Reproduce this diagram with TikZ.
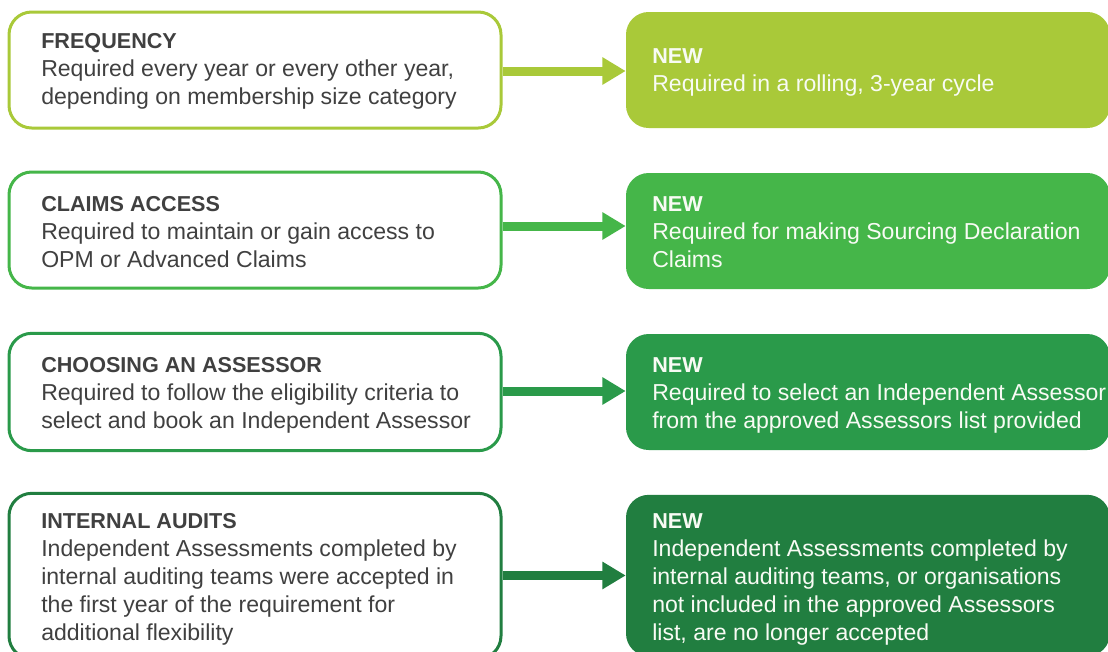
\documentclass[tikz,border=0pt]{standalone}
\usepackage{fontspec}
\setmainfont{Liberation Sans}
\usetikzlibrary{arrows.meta}
\definecolor{cA}{HTML}{A9C939}
\definecolor{cB}{HTML}{45B649}
\definecolor{cC}{HTML}{2A9A4A}
\definecolor{cD}{HTML}{217E40}
\definecolor{txtgray}{HTML}{404040}
\definecolor{txtwhite}{HTML}{F8FBF4}
\newcommand{\hd}[1]{{\fontsize{16.2}{21}\selectfont\bfseries #1}}
\tikzset{
  lbox/.style={draw, line width=2.25pt, rounded corners=17pt, fill=white, minimum width=369pt, inner sep=0pt},
  rbox/.style={rounded corners=17pt, minimum width=363pt, inner sep=0pt},
  arr/.style={line width=6.75pt, -{Triangle[length=17.5pt, width=19.5pt]}},
  ltxt/.style={anchor=base west, inner sep=0pt, text=txtgray, font=\fontsize{17.3}{21}\selectfont},
  rtxt/.style={anchor=base west, inner sep=0pt, text=txtwhite, font=\fontsize{17.3}{21}\selectfont}
}
\begin{document}
\begin{tikzpicture}[x=0.75pt, y=-0.75pt]
\useasboundingbox (0,0) rectangle (1108,651);
\clip (0,0) rectangle (1108,651);
% left boxes
\node[lbox, draw=cA, minimum height=87pt] (l1) at (255,70) {};
\node[lbox, draw=cB, minimum height=87pt] (l2) at (255,230) {};
\node[lbox, draw=cC, minimum height=88pt] (l3) at (255,392) {};
\node[lbox, draw=cD, minimum height=124pt] (l4) at (255,576) {};
% right boxes
\node[rbox, fill=cA, minimum height=87pt] (r1) at (868,70) {};
\node[rbox, fill=cB, minimum height=87pt] (r2) at (868,231) {};
\node[rbox, fill=cC, minimum height=87pt] (r3) at (868,392) {};
\node[rbox, fill=cD, minimum height=121pt] (r4) at (868,575.5) {};
% arrows
\draw[arr, cA] ([yshift=-0.75pt]l1.east) -- ([yshift=-0.75pt]l1.east -| r1.west);
\draw[arr, cB] ([yshift=3pt]l2.east) -- ([yshift=3pt]l2.east -| r2.west);
\draw[arr, cC] ([yshift=0.75pt]l3.east) -- ([yshift=0.75pt]l3.east -| r3.west);
\draw[arr, cD] ([yshift=0.4pt]l4.east) -- ([yshift=0.4pt]l4.east -| r4.west);
% left texts
\node[ltxt] (t1) at (41,48) {\parbox[t]{420pt}{\hd{FREQUENCY}\\Required every year or every other year,\\depending on membership size category}};
\node[ltxt] (t2) at (41,211) {\parbox[t]{420pt}{\hd{CLAIMS ACCESS}\\Required to maintain or gain access to\\OPM or Advanced Claims}};
\node[ltxt] (t3) at (41,372) {\parbox[t]{420pt}{\hd{CHOOSING AN ASSESSOR}\\Required to follow the eligibility criteria to\\select and book an Independent Assessor}};
\node[ltxt] (t4) at (41,528) {\parbox[t]{420pt}{\hd{INTERNAL AUDITS}\\Independent Assessments completed by\\internal auditing teams were accepted in\\the first year of the requirement for\\additional flexibility}};
% right texts
\node[rtxt] (s1) at (652,63) {\parbox[t]{420pt}{\hd{NEW}\\Required in a rolling, 3-year cycle}};
\node[rtxt] (s2) at (652,211) {\parbox[t]{420pt}{\hd{NEW}\\Required for making Sourcing Declaration\\Claims}};
\node[rtxt] (s3) at (652,372) {\parbox[t]{420pt}{\hd{NEW}\\Required to select an Independent Assessor\\from the approved Assessors list provided}};
\node[rtxt] (s4) at (652,528) {\parbox[t]{420pt}{\hd{NEW}\\Independent Assessments completed by\\internal auditing teams, or organisations\\not included in the approved Assessors\\list, are no longer accepted}};
\end{tikzpicture}
\end{document}
